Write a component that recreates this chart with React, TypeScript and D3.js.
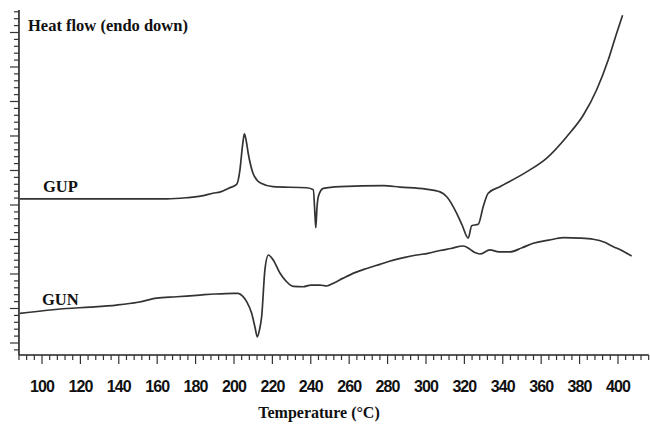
import React from "react";
import * as d3 from "d3";

// GUP curve (temperature °C, heat flow arbitrary units)
const gupTemp = [88.5, 130, 165, 175, 184, 189, 193, 197, 201.4, 203.1, 204.4, 205.4, 206.3, 207.4, 209.9, 212, 214.4, 220.3, 237.9, 241.3, 242.2, 242.6, 243.2, 243.9, 246.5, 255.2, 277.8, 286.5, 300, 307.3, 310.8, 316, 318.8, 322, 323.8, 327.2, 329.8, 332.4, 338.5, 352.4, 362.9, 373.3, 381.9, 388.9, 394.9, 399.3, 402.4];
const gupFlow = [20.9, 20.9, 20.9, 21.05, 21.35, 21.7, 21.9, 22.4, 23.0, 25.1, 28.5, 30.3, 29.4, 27.5, 24.6, 23.6, 23.1, 22.65, 22.5, 22.2, 18.5, 16.7, 19.5, 21.2, 22.4, 22.65, 22.8, 22.6, 22.3, 21.9, 21.2, 18.8, 17.1, 15.2, 17.0, 17.2, 19.75, 21.7, 22.65, 24.8, 26.8, 29.9, 33.0, 36.7, 41.0, 44.9, 47.5];

// GUN curve
const gunTemp = [88.5, 112.9, 125, 138.9, 150, 159.7, 170, 182.3, 190, 199.6, 202.2, 204.5, 206.6, 209.2, 211, 212.1, 213.2, 214.4, 216.1, 217.9, 220.5, 224, 227, 230.9, 236.1, 240, 244.8, 248.3, 252, 256.9, 263, 269.1, 276, 283, 289, 295.2, 301, 307.3, 313, 319.4, 322.9, 325.5, 328.1, 333.3, 338, 343.75, 350, 355.9, 364, 371.5, 380, 387.1, 393, 397.6, 402, 407.1];
const gunFlow = [4.3, 5.0, 5.2, 5.5, 5.9, 6.5, 6.7, 6.95, 7.1, 7.2, 7.2, 6.8, 6.0, 4.3, 2.2, 0.9, 1.8, 3.8, 10.6, 12.75, 12.0, 10.1, 9.0, 8.2, 8.15, 8.4, 8.4, 8.26, 8.7, 9.4, 10.2, 10.8, 11.4, 12.0, 12.4, 12.75, 13.0, 13.4, 13.7, 14.06, 13.6, 13.1, 12.9, 13.5, 13.2, 13.2, 13.8, 14.45, 14.9, 15.26, 15.2, 15.03, 14.6, 13.96, 13.4, 12.6];

const xTickLabels = [100, 120, 140, 160, 180, 200, 220, 240, 260, 280, 300, 320, 340, 360, 380, 400];
const seriesLabels = ["GUP", "GUN"];
const yTitle = "Heat flow (endo down)";
const xTitle = "Temperature (°C)";

export default function App() {
  const W = 650, H = 427;
  const x = d3.scaleLinear().domain([88, 416]).range([18.96, 648.7]);
  const y = d3.scaleLinear().domain([-1.74, 48.26]).range([355, 10]);
  const x0 = x(88), y0 = y(-1.74);

  const line = d3
    .line<[number, number]>()
    .x((d) => x(d[0]))
    .y((d) => y(d[1]))
    .curve(d3.curveMonotoneX);

  const gup: [number, number][] = gupTemp.map((t, i) => [t, gupFlow[i]]);
  const gun: [number, number][] = gunTemp.map((t, i) => [t, gunFlow[i]]);

  const xTicks = d3.range(88, 417, 4);
  const yTicks = d3.range(-1, 49, 1);

  return (
    <svg width={W} height={H} style={{ position: "absolute", left: 0, top: 0, background: "#fff" }}>
      <rect width={W} height={H} fill="#fff" />
      {/* axes */}
      <line x1={x0} y1={y(48.26)} x2={x0} y2={y0} stroke="#222" strokeWidth={1.6} />
      <line x1={x0} y1={y0} x2={x(416)} y2={y0} stroke="#222" strokeWidth={1.6} />
      {yTicks.map((v) => (
        <line key={"yt" + v} x1={x0 - (v % 5 === 0 ? 9 : 5)} x2={x0} y1={y(v)} y2={y(v)} stroke="#333" strokeWidth={1.2} />
      ))}
      {xTicks.map((t) => (
        <line key={"xt" + t} x1={x(t)} x2={x(t)} y1={y0} y2={y0 + (t % 20 === 0 ? 9 : 5)} stroke="#333" strokeWidth={1.2} />
      ))}
      {xTickLabels.map((t) => (
        <text key={"xl" + t} x={x(t)} y={392} textAnchor="middle" fontFamily="Liberation Sans, Arial, sans-serif" fontWeight="bold" fontSize={16} letterSpacing={-0.9} fill="#111">
          {t}
        </text>
      ))}
      <text x={319} y={418} textAnchor="middle" fontFamily="Liberation Serif, Times New Roman, serif" fontWeight="bold" fontSize={16} fill="#111">
        {xTitle}
      </text>
      <text x={28} y={31} fontFamily="Liberation Serif, Times New Roman, serif" fontWeight="bold" fontSize={16.5} fill="#111">
        {yTitle}
      </text>
      {/* curves */}
      <path d={line(gup) || ""} fill="none" stroke="#333" strokeWidth={1.7} />
      <path d={line(gun) || ""} fill="none" stroke="#333" strokeWidth={1.7} />
      <text x={43} y={192} fontFamily="Liberation Serif, Times New Roman, serif" fontWeight="bold" fontSize={16.5} fill="#111">
        {seriesLabels[0]}
      </text>
      <text x={42} y={305} fontFamily="Liberation Serif, Times New Roman, serif" fontWeight="bold" fontSize={16.5} fill="#111">
        {seriesLabels[1]}
      </text>
    </svg>
  );
}
